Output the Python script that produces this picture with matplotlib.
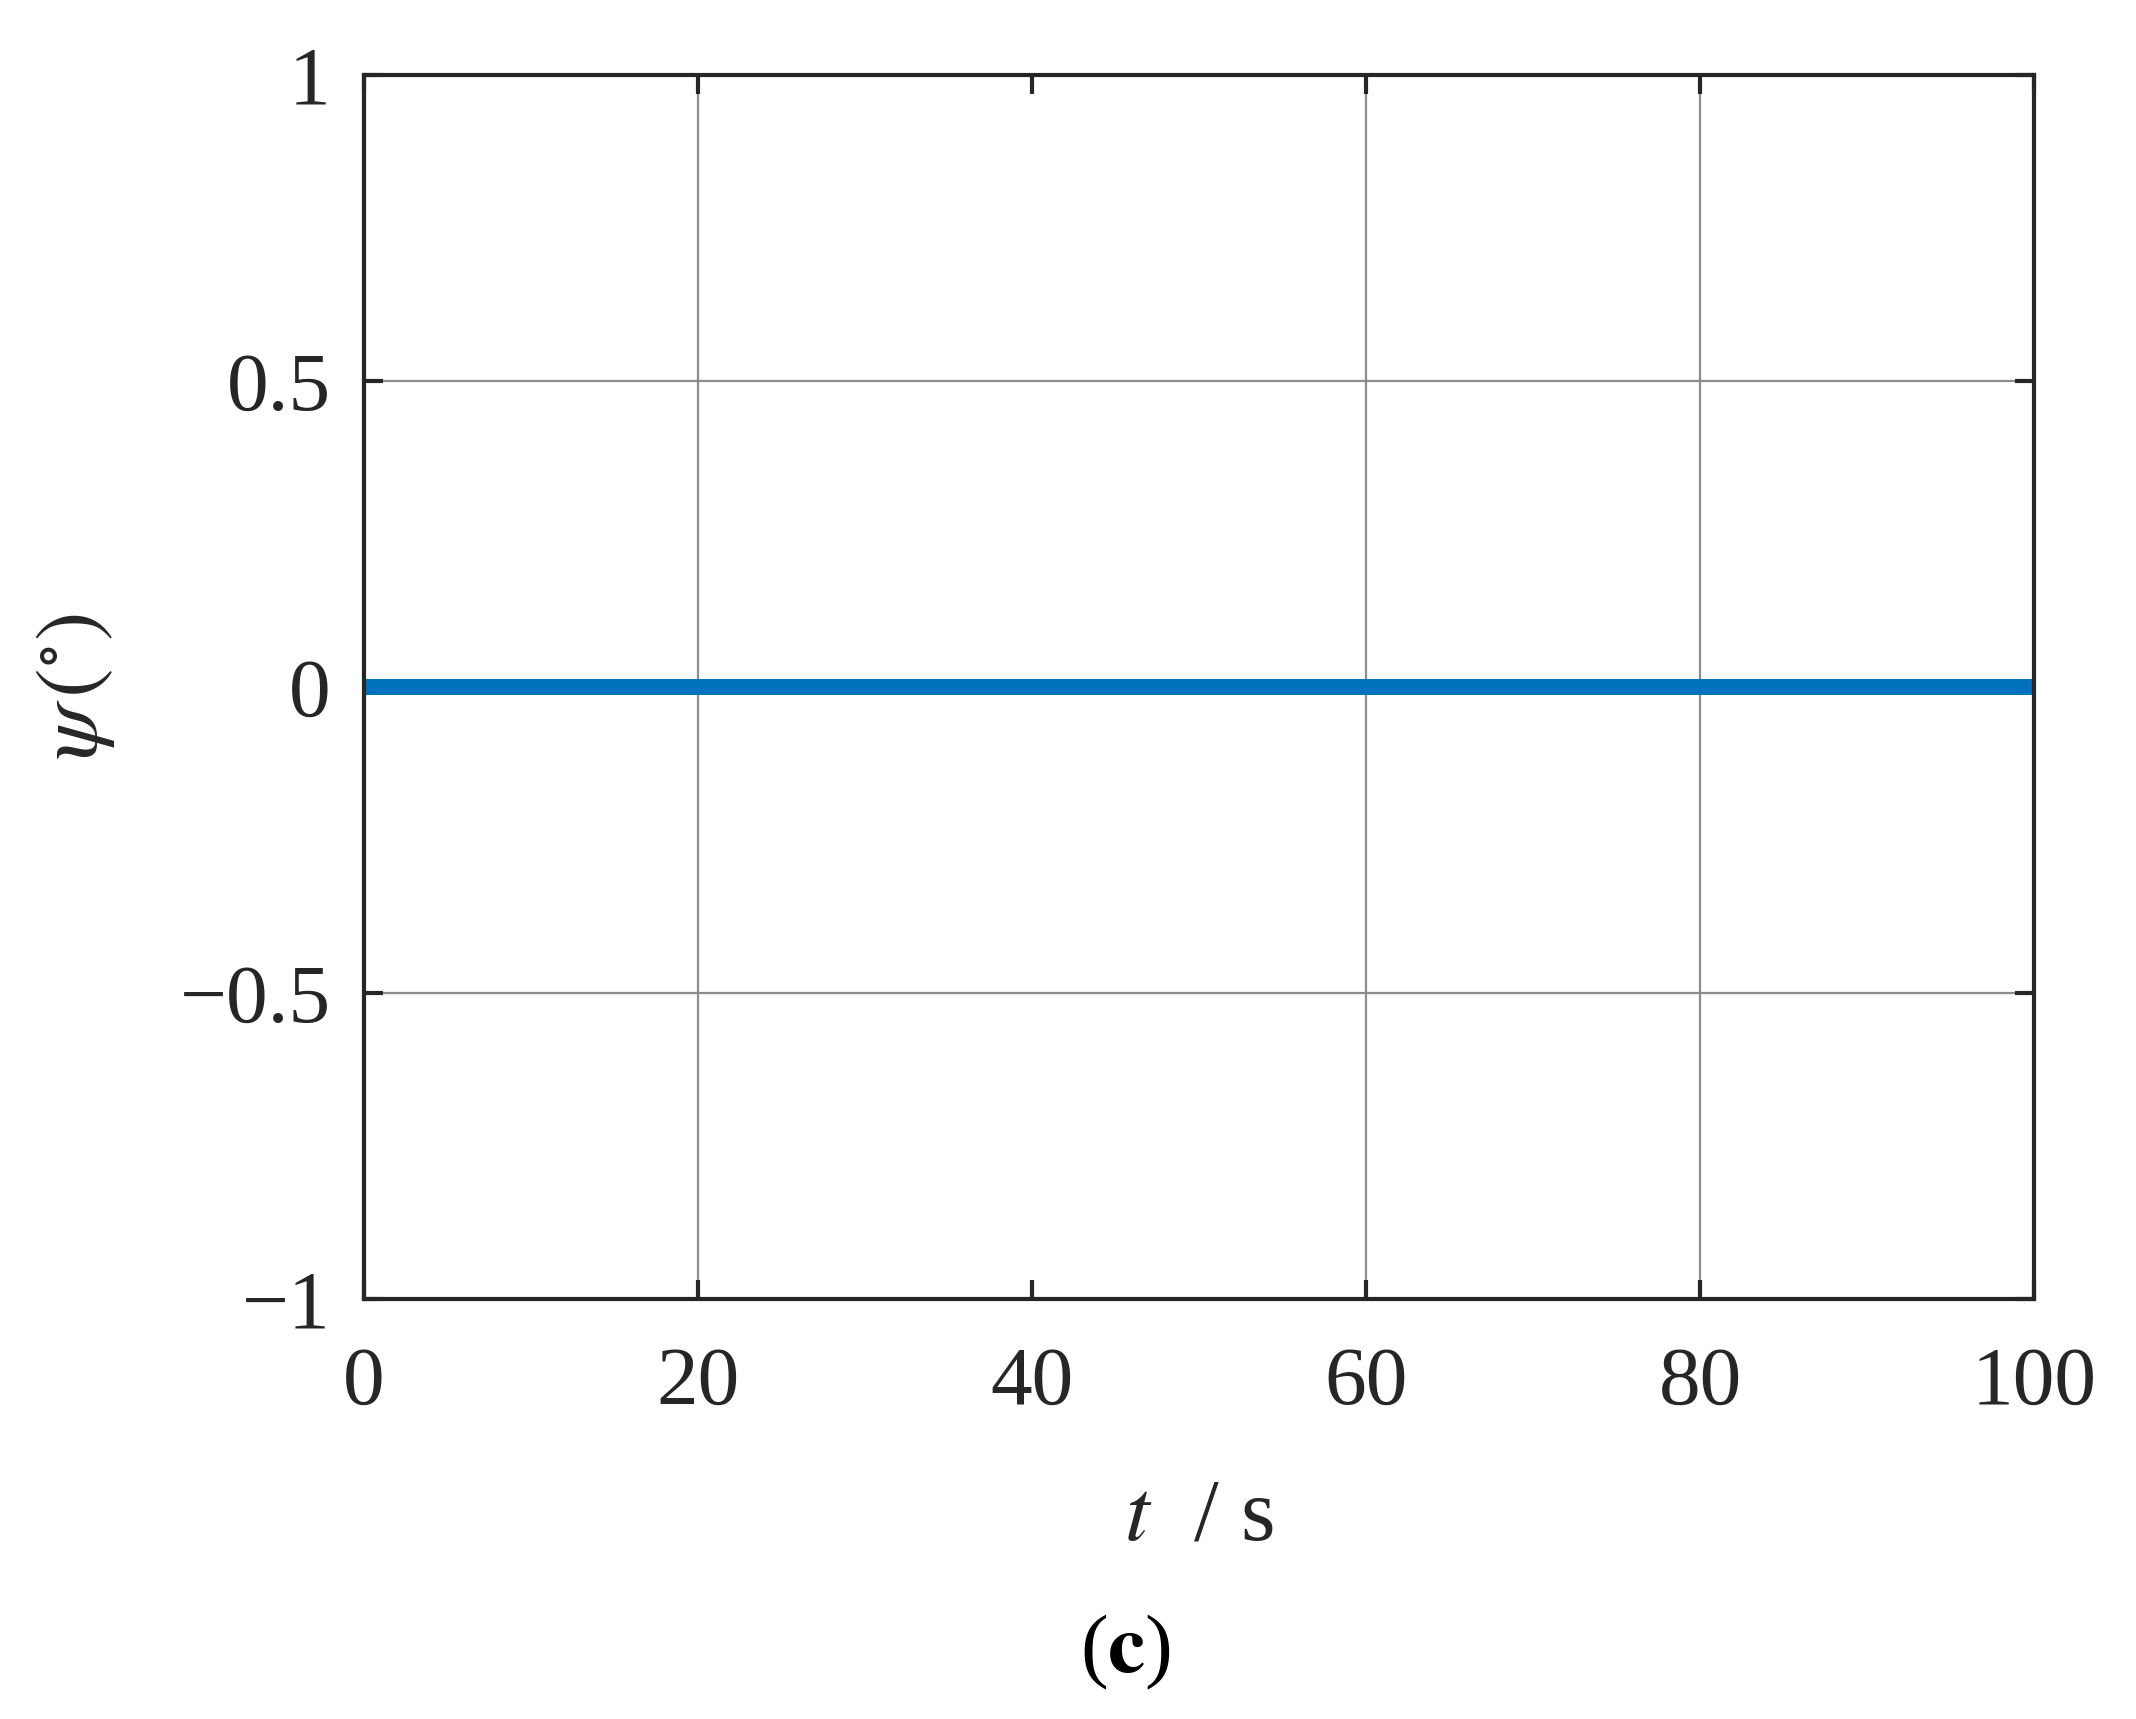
import matplotlib
matplotlib.use("Agg")
import matplotlib.pyplot as plt

# Data
t = [0, 100]
psi = [0, 0]
xticks = [0, 20, 40, 60, 80, 100]
xtick_labels = ["0", "20", "40", "60", "80", "100"]
yticks = [-1, -0.5, 0, 0.5, 1]
ytick_labels = ["\u22121", "\u22120.5", "0", "0.5", "1"]
# gridlines visible in the reference (the one at 40 s is not shown)
grid_x = [20, 60, 80]
grid_y = [-0.5, 0, 0.5]

plt.rcParams['font.family'] = ['Liberation Serif', 'DejaVu Serif']
plt.rcParams['mathtext.fontset'] = 'stix'

W, H = 2136, 1719
fig = plt.figure(figsize=(W / 100, H / 100), dpi=100)
left, right, top, bottom = 364, 2034, 75, 1299
ax = fig.add_axes([left / W, 1 - bottom / H, (right - left) / W, (bottom - top) / H])

for gx in grid_x:
    ax.axvline(gx, color='#8c8c8c', lw=1.6, zorder=1)
for gy in grid_y:
    ax.axhline(gy, color='#8c8c8c', lw=1.6, zorder=1)

ax.plot(t, psi, color='#0072BD', lw=11.5, solid_capstyle='butt', zorder=3)

ax.set_xlim(0, 100)
ax.set_ylim(-1, 1)
ax.set_xticks(xticks)
ax.set_xticklabels(xtick_labels)
ax.set_yticks(yticks)
ax.set_yticklabels(ytick_labels)

for s in ax.spines.values():
    s.set_linewidth(3.0)
    s.set_color('#262626')
    s.set_zorder(4)

ax.tick_params(direction='in', length=14, width=3.0, color='#262626',
               top=True, right=True, labelsize=60, labelcolor='#262626')
ax.tick_params(axis='x', pad=34)
ax.tick_params(axis='y', pad=24)

ax.set_xlabel(r'$t$  / s', fontsize=64, color='#262626', labelpad=40)
ax.set_ylabel(r'$\psi\,(^{\circ})$', fontsize=64, color='#262626', labelpad=45)

fig.text(1125 / W, 1 - 1652 / H, r'($\mathbf{c}$)', ha='center', va='center',
         fontsize=60, color='black')

fig.savefig('out.png', dpi=100)
